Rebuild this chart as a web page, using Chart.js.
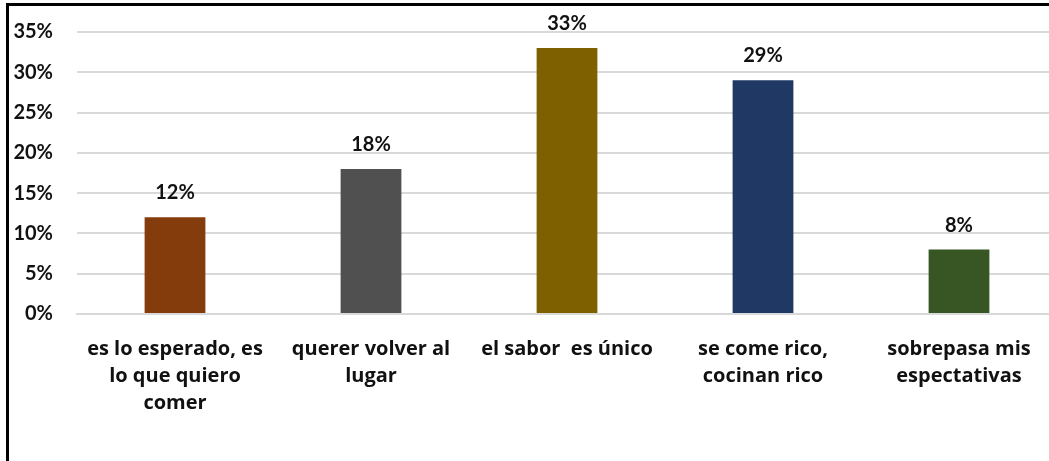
<!DOCTYPE html>
<html>
<head>
<meta charset="utf-8">
<script src="https://cdn.jsdelivr.net/npm/chart.js@4"></script>
<style>
    html, body { margin: 0; padding: 0; background: #fff; overflow: hidden; }
    #frame {
        position: absolute; left: 6px; top: 3px;
        border-left: 3px solid #000; border-top: 3px solid #000;
        width: 1048px; height: 455px;
    }
    canvas { display: block; }
</style>
</head>
<body>
<div id="frame"><canvas id="chart" width="1048" height="455"></canvas></div>
<script>
// chart data
const categories = [
    ['es lo esperado, es', 'lo que quiero', 'comer'],
    ['querer volver al', 'lugar'],
    ['el sabor  es único'],
    ['se come rico,', 'cocinan rico'],
    ['sobrepasa mis', 'espectativas']
];
const percentages = [12, 18, 33, 29, 8];
const barColors = ['#843C0C', '#505050', '#7F6000', '#1F3864', '#375623'];
const yTicks = [0, 5, 10, 15, 20, 25, 30, 35];

const numFont = 'Lato, "Open Sans", sans-serif';
const catFont = '"Open Sans", Lato, sans-serif';

// draws the value above each bar
const valueLabels = {
    id: 'valueLabels',
    afterDatasetsDraw(chart) {
        const ctx = chart.ctx;
        const meta = chart.getDatasetMeta(0);
        ctx.save();
        ctx.font = 'bold 20px ' + numFont;
        ctx.fillStyle = '#111';
        ctx.textAlign = 'center';
        ctx.textBaseline = 'alphabetic';
        meta.data.forEach((bar, i) => {
            ctx.fillText(percentages[i] + '%', bar.x, bar.y - 18);
        });
        ctx.restore();
    }
};

const ctx = document.getElementById('chart').getContext('2d');
new Chart(ctx, {
    type: 'bar',
    data: {
        labels: categories,
        datasets: [{
            data: percentages,
            backgroundColor: barColors,
            categoryPercentage: 1,
            barPercentage: 0.31
        }]
    },
    options: {
        responsive: false,
        animation: false,
        layout: { padding: { top: 26, left: 0, right: 0, bottom: 0 } },
        plugins: {
            legend: { display: false },
            tooltip: { enabled: false }
        },
        scales: {
            x: {
                grid: { display: false, drawTicks: false },
                border: { display: true, color: '#d9d9d9', width: 2 },
                ticks: {
                    color: '#111',
                    padding: 22,
                    maxRotation: 0,
                    autoSkip: false,
                    font: { family: catFont, size: 20, weight: 'bold', lineHeight: 1.35 }
                },
                afterFit(scale) { scale.height = 147; }
            },
            y: {
                min: 0,
                max: 35,
                grid: { color: '#d9d9d9', lineWidth: 2, drawTicks: false },
                border: { display: false },
                afterBuildTicks(scale) {
                    scale.ticks = yTicks.map(v => ({ value: v }));
                },
                ticks: {
                    color: '#111',
                    padding: 24,
                    font: { family: numFont, size: 20, weight: 'bold' },
                    callback: v => v + '%'
                },
                afterFit(scale) {
                    // keep the plot top set by layout padding only
                    scale.width = 68;
                    scale.paddingTop = 0;
                    scale.paddingBottom = 0;
                }
            }
        }
    },
    plugins: [valueLabels]
});
</script>
</body>
</html>
